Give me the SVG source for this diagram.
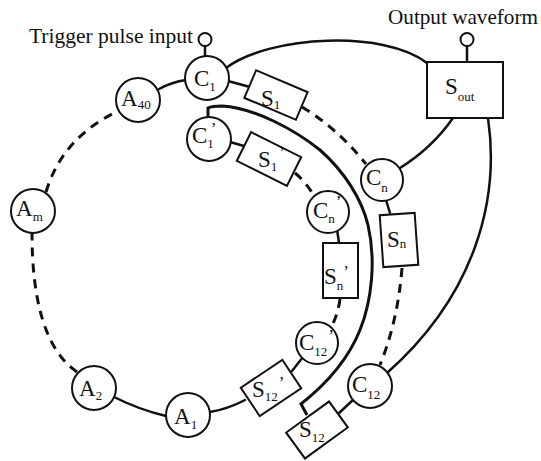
<svg xmlns="http://www.w3.org/2000/svg" width="541" height="461" viewBox="0 0 541 461">
<style>
.n{fill:#fff;stroke:#111;stroke-width:2}
.t{fill:#fff;stroke:#111;stroke-width:2}
.w{fill:none;stroke:#111;stroke-width:2.5;stroke-linecap:round}
.big{fill:none;stroke:#111;stroke-width:3}
.d{fill:none;stroke:#111;stroke-width:3;stroke-dasharray:9 7}
text{font-family:"Liberation Serif","Times New Roman",serif;fill:#111}
.l{font-size:23px}
.s{font-size:13px}
.p{font-size:17px}
.cap{font-size:21px}
</style>
<rect width="541" height="461" fill="#fff"/>
<g id="connectors">
  <path class="w" d="M205,46 V57"/>
  <path class="w" d="M467,46 V62"/>
  <path class="w" d="M159,89 Q172,82 186,80"/>
  <path class="w" d="M228,81 L250,87"/>
  <path class="d" d="M302,107 Q337,128 366,164"/>
  <path class="w" d="M386,200 L390,213"/>
  <path class="d" d="M402,268 Q398,320 380,365"/>
  <path class="w" d="M354,399 L338,414"/>
  <path class="w" d="M226,68 C270,35 385,30 427,63"/>
  <path class="w" d="M488,118 C500,200 475,295 387,373"/>
  <path class="w" d="M400,168 Q432,148 453,118"/>
  <path class="w" d="M230,142 L244,146"/>
  <path class="d" d="M295,173 Q306,182 314,196"/>
  <path class="w" d="M337,229 L339,243"/>
  <path class="d" d="M340,299 Q338,314 331,328"/>
  <path class="w" d="M303,357 L292,371"/>
  <path class="w" d="M245,400 Q228,409 210,412"/>
  <path class="w" d="M166,416 Q140,410 114,397"/>
  <path class="d" d="M77,372 C45,350 32,300 32,233"/>
  <path class="d" d="M46,192 Q62,138 118,111"/>
  <path class="big" d="M208,117 V108 Q212,106 222,106 C255,108 295,130 320,150 C345,172 362,200 368,225 C376,260 372,300 360,330 C348,360 325,385 301,404 L307,415"/>
</g>
<g id="trigger"><circle class="t" cx="205" cy="39.5" r="6.5"/><text class="cap" x="29" y="43" textLength="164" lengthAdjust="spacingAndGlyphs">Trigger pulse input</text></g>
<g id="output"><circle class="t" cx="467" cy="39.5" r="6.5"/><text class="cap" x="388" y="24" textLength="150" lengthAdjust="spacingAndGlyphs">Output waveform</text></g>
<g id="C1"><circle class="n" cx="207" cy="78" r="22"/><text class="l" x="194" y="86">C<tspan class="s" dy="5">1</tspan></text></g>
<g id="A40"><circle class="n" cx="138" cy="100" r="22"/><text class="l" x="121" y="106">A<tspan class="s" dy="3">40</tspan></text></g>
<g id="Am"><circle class="n" cx="33" cy="211" r="22"/><text class="l" x="16" y="216">A<tspan class="s" dy="5">m</tspan></text></g>
<g id="A2"><circle class="n" cx="94" cy="388" r="22"/><text class="l" x="79" y="396">A<tspan class="s" dy="4">2</tspan></text></g>
<g id="A1"><circle class="n" cx="188" cy="415" r="22"/><text class="l" x="174" y="424">A<tspan class="s" dy="5">1</tspan></text></g>
<g id="S1"><rect class="n" x="-28" y="-15" width="56" height="30" transform="translate(276,95) rotate(23)"/><text class="l" x="261" y="106">S<tspan class="s" dy="3">1</tspan></text></g>
<g id="Cn"><circle class="n" cx="382" cy="180" r="21"/><text class="l" x="366" y="185">C<tspan class="s" dy="7">n</tspan></text></g>
<g id="Sn"><rect class="n" x="-17.5" y="-26" width="35" height="52" transform="translate(399,240) rotate(-4)"/><text class="l" x="387" y="247">S<tspan class="s" dy="1">n</tspan></text></g>
<g id="C12"><circle class="n" cx="370" cy="386" r="22"/><text class="l" x="352" y="392">C<tspan class="s" dy="7">12</tspan></text></g>
<g id="S12"><rect class="n" x="-26.5" y="-16" width="53" height="32" transform="translate(317,430) rotate(-36)"/><text class="l" x="299" y="437">S<tspan class="s" dy="5">12</tspan></text></g>
<g id="Sout"><rect class="n" x="427" y="62" width="76" height="56"/><text class="l" x="445" y="94">S<tspan class="s" dy="7">out</tspan></text></g>
<g id="C1p"><circle class="n" cx="209" cy="139" r="22"/><text class="l" x="192" y="143">C<tspan class="s" dy="5">1</tspan><tspan class="p" dx="-3" dy="-14">’</tspan></text></g>
<g id="S1p"><rect class="n" x="-28" y="-16" width="56" height="32" transform="translate(269,159) rotate(26.5)"/><text class="l" x="258" y="167">S<tspan class="s" dy="4">1</tspan><tspan class="p" dx="2" dy="-13">’</tspan></text></g>
<g id="Cnp"><circle class="n" cx="328" cy="212" r="21"/><text class="l" x="313" y="218">C<tspan class="s" dy="5">n</tspan><tspan class="p" dx="1" dy="-16">’</tspan></text></g>
<g id="Snp"><rect class="n" x="323" y="243" width="35" height="55"/><text class="l" x="324" y="284">S<tspan class="s" dy="6">n</tspan><tspan class="p" dx="0" dy="-13">’</tspan></text></g>
<g id="C12p"><circle class="n" cx="317" cy="343" r="21"/><text class="l" x="299" y="350">C<tspan class="s" dy="6">12</tspan><tspan class="p" dx="1" dy="-15">’</tspan></text></g>
<g id="S12p"><rect class="n" x="-25" y="-17" width="50" height="34" transform="translate(271,388) rotate(-33.7)"/><text class="l" x="252" y="397">S<tspan class="s" dy="4">12</tspan><tspan class="p" dx="1" dy="-13">’</tspan></text></g>
</svg>
